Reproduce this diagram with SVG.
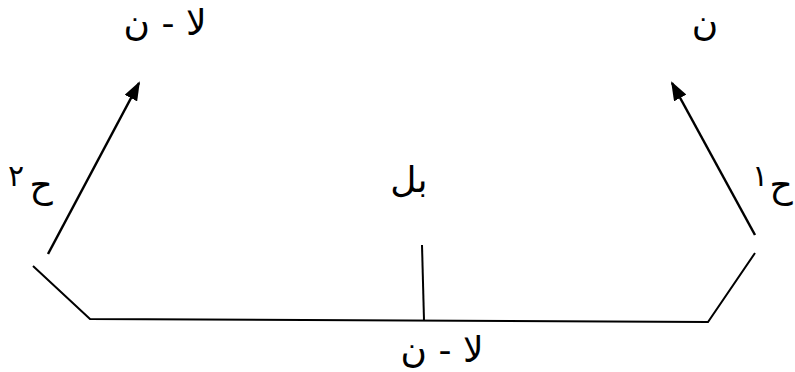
<svg xmlns="http://www.w3.org/2000/svg" width="795" height="372" viewBox="0 0 795 372">
<style>
.t{font-family:"DejaVu Sans",sans-serif;font-size:36px;fill:#000;text-anchor:middle}
.s{font-family:"DejaVu Sans",sans-serif;font-size:30px;fill:#000;text-anchor:middle}
.ln{stroke:#000;stroke-width:2;fill:none}
</style>
<defs>
<marker id="ah" viewBox="0 0 10 10" refX="9" refY="5" markerWidth="19" markerHeight="14" markerUnits="userSpaceOnUse" orient="auto" preserveAspectRatio="none">
<path d="M0,0 L10,5 L0,10 z" fill="#000"/>
</marker>
</defs>
<rect width="795" height="372" fill="#fff"/>
<g id="connectors">
<line class="ln" x1="48" y1="254" x2="139" y2="83" marker-end="url(#ah)" style="stroke-width:2.5"/>
<line class="ln" x1="755" y1="235" x2="672" y2="83" marker-end="url(#ah)" style="stroke-width:2.5"/>
<polyline class="ln" points="33,266 90,319 708,322 755,253"/>
<line class="ln" x1="422" y1="245" x2="424" y2="320"/>
</g>
<g id="node-top-left"><text class="t" x="165" y="35">لا - ن</text></g>
<g id="node-top-right"><text class="t" x="705" y="35">ن</text></g>
<g id="node-middle"><text class="t" x="409" y="192">بل</text></g>
<g id="node-bottom"><text class="t" x="442" y="362">لا - ن</text></g>
<g id="label-h2"><text class="t" x="41" y="197">ح</text><text class="s" x="16" y="186">٢</text></g>
<g id="label-h1"><text class="t" x="781" y="197">ح</text><text class="s" x="760" y="186">١</text></g>
</svg>
